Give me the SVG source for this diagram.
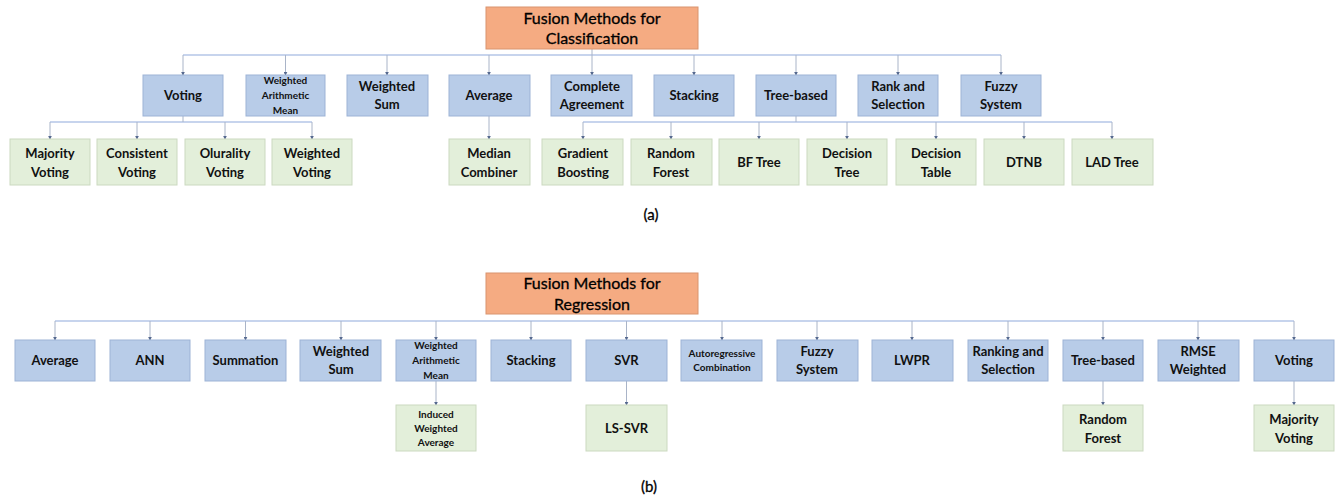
<svg xmlns="http://www.w3.org/2000/svg" width="1339" height="497" viewBox="0 0 1339 497">
<defs>
<marker id="ah" viewBox="0 0 6 6" refX="5" refY="3" markerWidth="4" markerHeight="4" orient="auto">
<path d="M0,0 L6,3 L0,6 z" fill="#56698f"/>
</marker>
<style>
.root{fill:#F5AB82;stroke:#D9946F;stroke-width:1}
.b{fill:#B8CCE8;stroke:#9DB3D6;stroke-width:1}
.g{fill:#E3EFDA;stroke:#CBD9C0;stroke-width:1}
text{font-family:Lato,"Open Sans","Liberation Sans",sans-serif;fill:#111;text-anchor:middle;font-weight:bold}
.t16{font-size:16px;font-weight:normal;fill:#000;stroke:#000;stroke-width:0.3}
.t13{font-size:13px}
.t10{font-size:10px}
.cap{font-size:15px;font-weight:normal;fill:#000;stroke:#000;stroke-width:0.3}
.h{stroke:#8FAADC;stroke-width:1.2;fill:none}
.v{stroke:#A9B4C8;stroke-width:1;fill:none;marker-end:url(#ah)}
</style>
</defs>
<g id="connectors">
<line class="h" x1="183" y1="55" x2="1001" y2="55"/>
<line class="v" x1="183" y1="55" x2="183" y2="75"/>
<line class="v" x1="285.5" y1="55" x2="285.5" y2="75"/>
<line class="v" x1="387" y1="55" x2="387" y2="75"/>
<line class="v" x1="489" y1="55" x2="489" y2="75"/>
<line class="v" x1="592" y1="49" x2="592" y2="75"/>
<line class="v" x1="694" y1="55" x2="694" y2="75"/>
<line class="v" x1="796" y1="55" x2="796" y2="75"/>
<line class="v" x1="898" y1="55" x2="898" y2="75"/>
<line class="v" x1="1001" y1="55" x2="1001" y2="75"/>
<line class="h" x1="50" y1="122" x2="312" y2="122"/>
<line class="v" x1="183" y1="116" x2="183" y2="122" style="marker-end:none"/>
<line class="v" x1="50" y1="122" x2="50" y2="139"/>
<line class="v" x1="137" y1="122" x2="137" y2="139"/>
<line class="v" x1="225" y1="122" x2="225" y2="139"/>
<line class="v" x1="312" y1="122" x2="312" y2="139"/>
<line class="v" x1="489" y1="116" x2="489" y2="139"/>
<line class="h" x1="583" y1="122" x2="1112" y2="122"/>
<line class="v" x1="796" y1="116" x2="796" y2="122" style="marker-end:none"/>
<line class="v" x1="583" y1="122" x2="583" y2="139"/>
<line class="v" x1="671" y1="122" x2="671" y2="139"/>
<line class="v" x1="759" y1="122" x2="759" y2="139"/>
<line class="v" x1="847" y1="122" x2="847" y2="139"/>
<line class="v" x1="936" y1="122" x2="936" y2="139"/>
<line class="v" x1="1024" y1="122" x2="1024" y2="139"/>
<line class="v" x1="1112" y1="122" x2="1112" y2="139"/>
<line class="h" x1="55" y1="321" x2="1294" y2="321"/>
<line class="v" x1="55" y1="321" x2="55" y2="340"/>
<line class="v" x1="150" y1="321" x2="150" y2="340"/>
<line class="v" x1="245.5" y1="321" x2="245.5" y2="340"/>
<line class="v" x1="341" y1="321" x2="341" y2="340"/>
<line class="v" x1="436" y1="321" x2="436" y2="340"/>
<line class="v" x1="531" y1="321" x2="531" y2="340"/>
<line class="v" x1="626.5" y1="321" x2="626.5" y2="340"/>
<line class="v" x1="722" y1="321" x2="722" y2="340"/>
<line class="v" x1="817" y1="321" x2="817" y2="340"/>
<line class="v" x1="912" y1="321" x2="912" y2="340"/>
<line class="v" x1="1008" y1="321" x2="1008" y2="340"/>
<line class="v" x1="1103" y1="321" x2="1103" y2="340"/>
<line class="v" x1="1198" y1="321" x2="1198" y2="340"/>
<line class="v" x1="1294" y1="321" x2="1294" y2="340"/>
<line class="v" x1="436" y1="381" x2="436" y2="405"/>
<line class="v" x1="626.5" y1="381" x2="626.5" y2="405"/>
<line class="v" x1="1103" y1="381" x2="1103" y2="405"/>
<line class="v" x1="1294" y1="381" x2="1294" y2="405"/>
</g>
<g id="rootA"><rect class="root" x="486" y="7" width="212" height="42"/><text class="t16" x="592" y="24">Fusion Methods for</text><text class="t16" x="592" y="44">Classification</text></g>
<g id="a-voting"><rect class="b" x="143" y="75" width="80" height="41"/><text class="t13" x="183" y="100">Voting</text></g>
<g id="a-wam"><rect class="b" x="246" y="75" width="79" height="41"/><text class="t10" x="285.5" y="84">Weighted</text><text class="t10" x="285.5" y="99">Arithmetic</text><text class="t10" x="285.5" y="114">Mean</text></g>
<g id="a-wsum"><rect class="b" x="347" y="75" width="81" height="41"/><text class="t13" x="387" y="91">Weighted</text><text class="t13" x="387" y="109">Sum</text></g>
<g id="a-average"><rect class="b" x="449" y="75" width="81" height="41"/><text class="t13" x="489" y="100">Average</text></g>
<g id="a-complete"><rect class="b" x="551" y="75" width="81" height="41"/><text class="t13" x="592" y="91">Complete</text><text class="t13" x="592" y="109">Agreement</text></g>
<g id="a-stacking"><rect class="b" x="654" y="75" width="80" height="41"/><text class="t13" x="694" y="100">Stacking</text></g>
<g id="a-tree"><rect class="b" x="756" y="75" width="80" height="41"/><text class="t13" x="796" y="100">Tree-based</text></g>
<g id="a-rank"><rect class="b" x="858" y="75" width="80" height="41"/><text class="t13" x="898" y="91">Rank and</text><text class="t13" x="898" y="109">Selection</text></g>
<g id="a-fuzzy"><rect class="b" x="961" y="75" width="80" height="41"/><text class="t13" x="1001" y="91">Fuzzy</text><text class="t13" x="1001" y="109">System</text></g>
<g id="a-majority"><rect class="g" x="10" y="139" width="80" height="46"/><text class="t13" x="50" y="158">Majority</text><text class="t13" x="50" y="177">Voting</text></g>
<g id="a-consistent"><rect class="g" x="97" y="139" width="80" height="46"/><text class="t13" x="137" y="158">Consistent</text><text class="t13" x="137" y="177">Voting</text></g>
<g id="a-olurality"><rect class="g" x="185" y="139" width="80" height="46"/><text class="t13" x="225" y="158">Olurality</text><text class="t13" x="225" y="177">Voting</text></g>
<g id="a-wvoting"><rect class="g" x="272" y="139" width="80" height="46"/><text class="t13" x="312" y="158">Weighted</text><text class="t13" x="312" y="177">Voting</text></g>
<g id="a-median"><rect class="g" x="449" y="139" width="81" height="46"/><text class="t13" x="489" y="158">Median</text><text class="t13" x="489" y="177">Combiner</text></g>
<g id="a-gradient"><rect class="g" x="542" y="139" width="81" height="46"/><text class="t13" x="583" y="158">Gradient</text><text class="t13" x="583" y="177">Boosting</text></g>
<g id="a-rf"><rect class="g" x="631" y="139" width="81" height="46"/><text class="t13" x="671" y="158">Random</text><text class="t13" x="671" y="177">Forest</text></g>
<g id="a-bf"><rect class="g" x="719" y="139" width="80" height="46"/><text class="t13" x="759" y="167">BF Tree</text></g>
<g id="a-dtree"><rect class="g" x="807" y="139" width="80" height="46"/><text class="t13" x="847" y="158">Decision</text><text class="t13" x="847" y="177">Tree</text></g>
<g id="a-dtable"><rect class="g" x="896" y="139" width="80" height="46"/><text class="t13" x="936" y="158">Decision</text><text class="t13" x="936" y="177">Table</text></g>
<g id="a-dtnb"><rect class="g" x="984" y="139" width="80" height="46"/><text class="t13" x="1024" y="167">DTNB</text></g>
<g id="a-lad"><rect class="g" x="1072" y="139" width="81" height="46"/><text class="t13" x="1112" y="167">LAD Tree</text></g>
<text class="cap" x="651" y="220">(a)</text>
<g id="rootB"><rect class="root" x="486" y="273" width="212" height="41"/><text class="t16" x="592" y="289">Fusion Methods for</text><text class="t16" x="592" y="310">Regression</text></g>
<g id="b-average"><rect class="b" x="15" y="340" width="80" height="41"/><text class="t13" x="55" y="365">Average</text></g>
<g id="b-ann"><rect class="b" x="110" y="340" width="80" height="41"/><text class="t13" x="150" y="365">ANN</text></g>
<g id="b-summation"><rect class="b" x="205" y="340" width="81" height="41"/><text class="t13" x="245.5" y="365">Summation</text></g>
<g id="b-wsum"><rect class="b" x="300" y="340" width="81" height="41"/><text class="t13" x="341" y="356">Weighted</text><text class="t13" x="341" y="374">Sum</text></g>
<g id="b-wam"><rect class="b" x="396" y="340" width="80" height="41"/><text class="t10" x="436" y="349">Weighted</text><text class="t10" x="436" y="364">Arithmetic</text><text class="t10" x="436" y="379">Mean</text></g>
<g id="b-stacking"><rect class="b" x="491" y="340" width="80" height="41"/><text class="t13" x="531" y="365">Stacking</text></g>
<g id="b-svr"><rect class="b" x="586" y="340" width="81" height="41"/><text class="t13" x="626.5" y="365">SVR</text></g>
<g id="b-auto"><rect class="b" x="681" y="340" width="81" height="41"/><text class="t10" x="722" y="357">Autoregressive</text><text class="t10" x="722" y="371">Combination</text></g>
<g id="b-fuzzy"><rect class="b" x="777" y="340" width="81" height="41"/><text class="t13" x="817" y="356">Fuzzy</text><text class="t13" x="817" y="374">System</text></g>
<g id="b-lwpr"><rect class="b" x="872" y="340" width="81" height="41"/><text class="t13" x="912" y="365">LWPR</text></g>
<g id="b-rank"><rect class="b" x="968" y="340" width="80" height="41"/><text class="t13" x="1008" y="356">Ranking and</text><text class="t13" x="1008" y="374">Selection</text></g>
<g id="b-tree"><rect class="b" x="1063" y="340" width="80" height="41"/><text class="t13" x="1103" y="365">Tree-based</text></g>
<g id="b-rmse"><rect class="b" x="1158" y="340" width="81" height="41"/><text class="t13" x="1198" y="356">RMSE</text><text class="t13" x="1198" y="374">Weighted</text></g>
<g id="b-voting"><rect class="b" x="1254" y="340" width="80" height="41"/><text class="t13" x="1294" y="365">Voting</text></g>
<g id="b-iwa"><rect class="g" x="396" y="405" width="80" height="46"/><text class="t10" x="436" y="418">Induced</text><text class="t10" x="436" y="432">Weighted</text><text class="t10" x="436" y="446">Average</text></g>
<g id="b-lssvr"><rect class="g" x="586" y="405" width="81" height="46"/><text class="t13" x="626.5" y="433">LS-SVR</text></g>
<g id="b-rf"><rect class="g" x="1063" y="405" width="80" height="46"/><text class="t13" x="1103" y="424">Random</text><text class="t13" x="1103" y="443">Forest</text></g>
<g id="b-majority"><rect class="g" x="1254" y="405" width="80" height="46"/><text class="t13" x="1294" y="424">Majority</text><text class="t13" x="1294" y="443">Voting</text></g>
<text class="cap" x="649" y="492">(b)</text>
</svg>
